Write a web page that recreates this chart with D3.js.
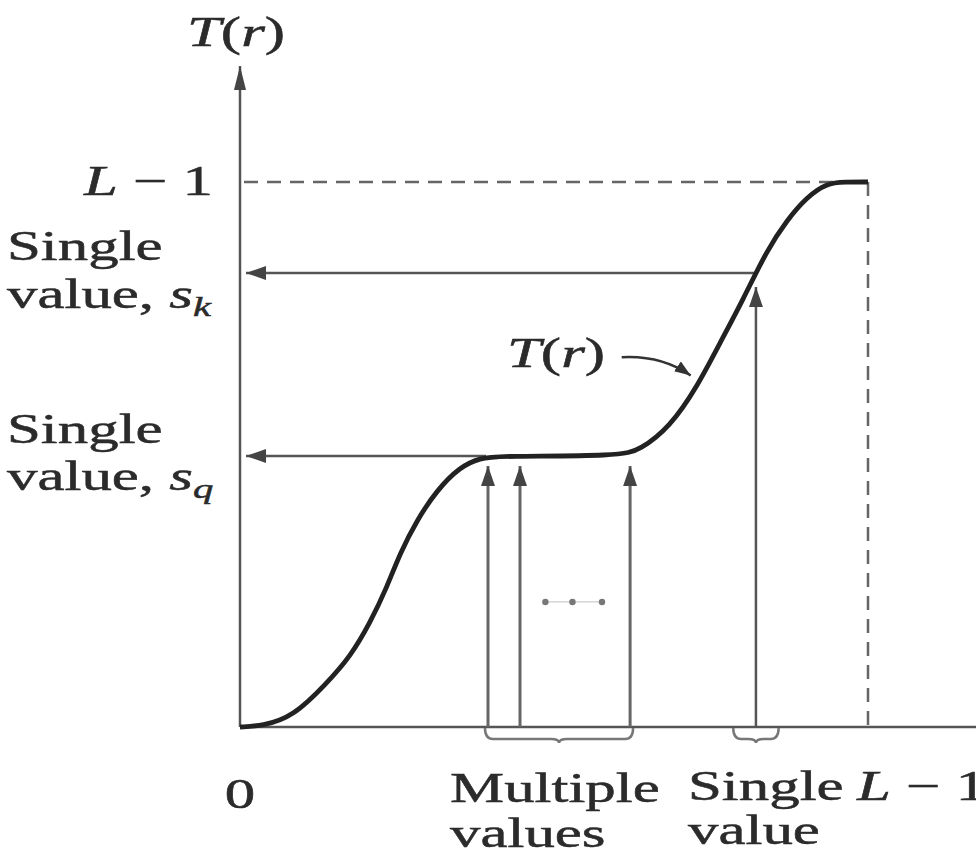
<!DOCTYPE html>
<html>
<head lang="en">
    <meta charset="UTF-8">
    <title></title>
    <script src="https://cdn.jsdelivr.net/npm/d3@7/dist/d3.min.js" charset="UTF-8"></script>
    <style>body{margin:0;background:#fff;}</style>
</head>
<body>
<script>
    // r and T(r) in grey levels, L-1 = 255
    var levelMax = 255;
    var curveR = [0, 9, 21.5, 35.3, 44.7, 52.8, 59.7, 65, 71.9, 80, 89.3, 97.5, 105.6, 154.3, 162.4, 174.6, 185.6, 194.9, 204.2, 214, 222.1, 230.2, 238.3, 245.6, 255];
    var curveT = [0, 0.5, 4.7, 20.6, 32.8, 48.7, 65.5, 81.4, 96.9, 110.9, 121.7, 125.9, 126.8, 126.8, 129.6, 140.4, 159.1, 179.7, 199.8, 223.2, 237.2, 248, 254.5, 255, 255];
    var multipleR = [100.7, 113.7, 158.4];
    var singleR = [209.5];
    var sqLevel = 126.8, skLevel = 212.4;
    var dotsR = [124, 135, 147], dotsT = 58.5;

    var W = 976, H = 859;
    var sx = 1.45; // the picture's text is stretched sideways

    var x = d3.scaleLinear().domain([0, levelMax]).range([240, 868]);
    var y = d3.scaleLinear().domain([0, levelMax]).range([727, 182]);

    var svg = d3.select("body").append("svg")
            .attr("width", W).attr("height", H)
            .style("font-family", "'Liberation Serif','Times New Roman',serif");

    var defs = svg.append("defs");
    function marker(id, len, half, color) {
        defs.append("marker").attr("id", id)
                .attr("markerUnits", "userSpaceOnUse")
                .attr("viewBox", "0 " + (-half) + " " + len + " " + (2 * half))
                .attr("refX", len).attr("refY", 0)
                .attr("markerWidth", len).attr("markerHeight", 2 * half)
                .attr("orient", "auto")
                .append("path").attr("d", "M0," + (-half) + "L" + len + ",0L0," + half + "Z")
                .attr("fill", color);
    }
    marker("ah", 20, 7, "#444");
    marker("axh", 24, 6, "#444");
    marker("small", 16, 6, "#333");

    // axes
    svg.append("line").attr("x1", x(0)).attr("y1", y(0)).attr("x2", x(0)).attr("y2", 66)
            .attr("stroke", "#555").attr("stroke-width", 2.5).attr("marker-end", "url(#axh)");
    svg.append("line").attr("x1", x(0)).attr("y1", y(0)).attr("x2", W).attr("y2", y(0))
            .attr("stroke", "#555").attr("stroke-width", 2.5);

    // dashed L-1 guides
    svg.append("line").attr("x1", x(0) + 4).attr("y1", y(levelMax)).attr("x2", x(levelMax)).attr("y2", y(levelMax))
            .attr("stroke", "#666").attr("stroke-width", 2.5).attr("stroke-dasharray", "14,9");
    svg.append("line").attr("x1", x(levelMax)).attr("y1", y(levelMax)).attr("x2", x(levelMax)).attr("y2", y(0))
            .attr("stroke", "#666").attr("stroke-width", 2.5).attr("stroke-dasharray", "14,9");

    // horizontal arrows to the T axis
    [[singleR[0], skLevel], [multipleR[0], sqLevel]].forEach(function (d) {
        svg.append("line").attr("x1", x(d[0]) - 2).attr("y1", y(d[1])).attr("x2", x(0) + 6).attr("y2", y(d[1]))
                .attr("stroke", "#555").attr("stroke-width", 2.5).attr("marker-end", "url(#ah)");
    });

    // vertical arrows from the r axis
    svg.selectAll(".up").data(multipleR).enter().append("line")
            .attr("x1", function (d) { return x(d); }).attr("x2", function (d) { return x(d); })
            .attr("y1", y(0)).attr("y2", y(sqLevel) + 10)
            .attr("stroke", "#666").attr("stroke-width", 3).attr("marker-end", "url(#ah)");
    svg.selectAll(".up2").data(singleR).enter().append("line")
            .attr("x1", function (d) { return x(d); }).attr("x2", function (d) { return x(d); })
            .attr("y1", y(0)).attr("y2", y(skLevel) + 14)
            .attr("stroke", "#555").attr("stroke-width", 2.5).attr("marker-end", "url(#ah)");

    // the transformation curve
    var pts = curveR.map(function (r, i) { return [r, curveT[i]]; });
    svg.append("path").datum(pts)
            .attr("d", d3.line().x(function (d) { return x(d[0]); }).y(function (d) { return y(d[1]); })
                    .curve(d3.curveBasis))
            .attr("fill", "none").attr("stroke", "#222").attr("stroke-width", 4.8);

    // dots between the arrows
    svg.append("line").attr("x1", x(dotsR[0])).attr("x2", x(dotsR[2])).attr("y1", y(dotsT)).attr("y2", y(dotsT))
            .attr("stroke", "#ccc").attr("stroke-width", 1.2);
    svg.selectAll(".dot").data(dotsR).enter().append("circle")
            .attr("cx", function (d) { return x(d); }).attr("cy", y(dotsT)).attr("r", 3.2).attr("fill", "#777");

    // braces under the r axis
    function brace(r0, r1) {
        var x0 = x(r0) - 3, x1 = x(r1) + 3, xm = (x0 + x1) / 2, y0 = y(0) + 1, h = 11, c = 8;
        var p = d3.path();
        p.moveTo(x0, y0);
        p.quadraticCurveTo(x0, y0 + h, x0 + c, y0 + h);
        p.lineTo(xm - c, y0 + h);
        p.quadraticCurveTo(xm, y0 + h, xm, y0 + h + 4);
        p.quadraticCurveTo(xm, y0 + h, xm + c, y0 + h);
        p.lineTo(x1 - c, y0 + h);
        p.quadraticCurveTo(x1, y0 + h, x1, y0);
        svg.append("path").attr("d", p.toString()).attr("fill", "none")
                .attr("stroke", "#777").attr("stroke-width", 2.5);
    }
    brace(multipleR[0], multipleR[2]);
    brace(singleR[0] - 8, singleR[0] + 8);

    // text helper: parts are [text, style]
    function label(px, py, parts, anchor) {
        var t = svg.append("text")
                .attr("transform", "translate(" + px + "," + py + ") scale(" + sx + ",1)")
                .attr("text-anchor", anchor || "start")
                .attr("font-size", 42).attr("fill", "#2b2b2b")
                .attr("stroke", "#2b2b2b").attr("stroke-width", 0.5);
        parts.forEach(function (p) {
            var s = t.append("tspan").text(p[0]);
            if (p[1] === "i") s.attr("font-style", "italic");
            if (p[1] === "sub") s.attr("font-style", "italic").attr("font-size", 28).attr("dy", 8);
        });
        return t;
    }

    label(187, 46, [["T", "i"], ["("], ["r", "i"], [")"]]);
    label(213, 195, [["L", "i"], [" \u2212 1"]], "end");
    label(7, 260, [["Single"]]);
    label(7, 308, [["value, "], ["s", "i"], ["k", "sub"]]);
    label(7, 443, [["Single"]]);
    label(7, 490, [["value, "], ["s", "i"], ["q", "sub"]]);
    label(x(0), 808, [["0"]], "middle");
    label(450, 802, [["Multiple"]]);
    label(450, 847, [["values"]]);
    label(688, 800, [["Single"]]);
    label(688, 844, [["value"]]);
    label(857, 800, [["L", "i"], [" \u2212 1"]]);

    // curve label with its pointer
    label(507, 367, [["T", "i"], ["("], ["r", "i"], [")"]]);
    var ptr = d3.path();
    ptr.moveTo(x(155), y(173));
    ptr.quadraticCurveTo(x(171), y(174), x(183), y(164.5));
    svg.append("path").attr("d", ptr.toString()).attr("fill", "none")
            .attr("stroke", "#333").attr("stroke-width", 2.5).attr("marker-end", "url(#small)");
</script>
</body>
</html>
